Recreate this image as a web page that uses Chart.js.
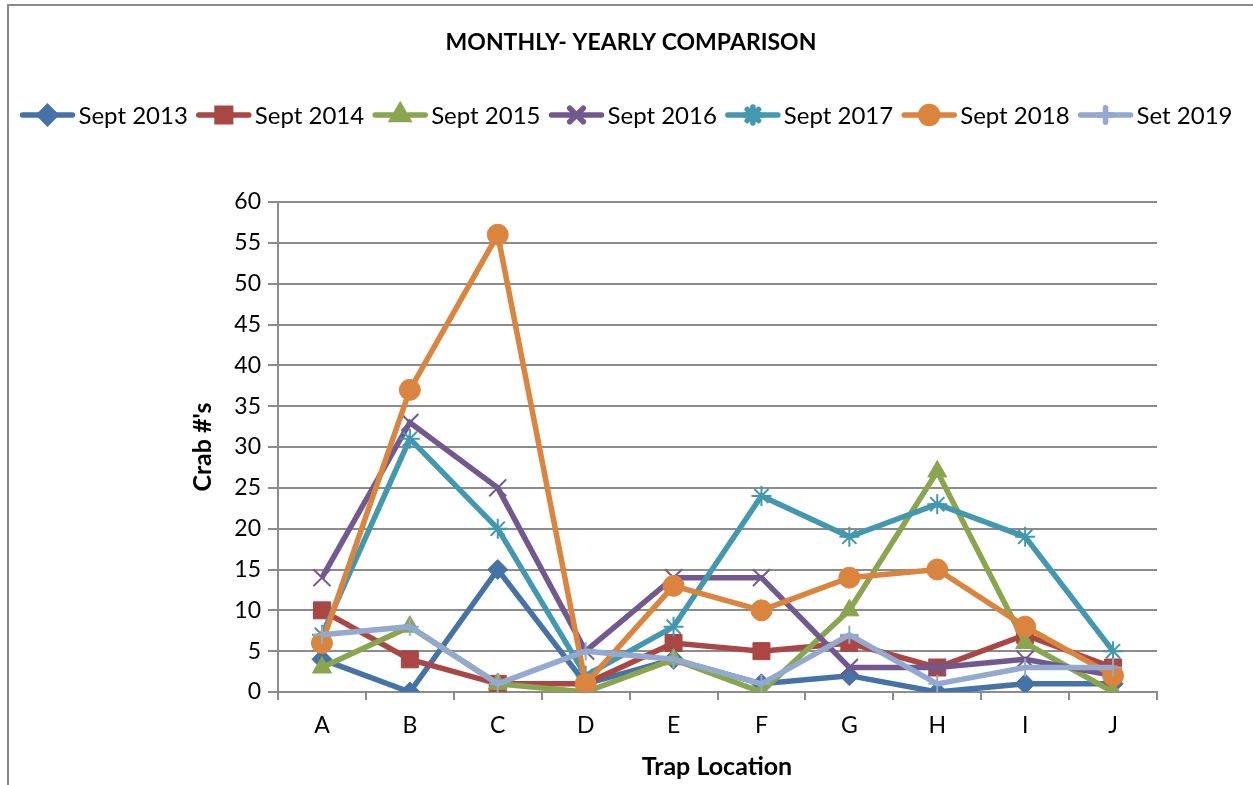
<!DOCTYPE html>
<html>
<head>
  <meta charset="utf-8">
  <title>Monthly- Yearly Comparison</title>
  <script src="https://cdn.jsdelivr.net/npm/chart.js"></script>
  <style>
    html, body { margin: 0; padding: 0; background: #fff; overflow: hidden; }
    .frame { position: absolute; left: 7px; top: 4px; width: 1400px; height: 900px; border: 2px solid #8c8c8c; }
    .wrap { position: absolute; left: 0; top: 0; width: 1253px; height: 785px; }
  </style>
</head>
<body>
  <div class="frame"></div>
  <div class="wrap"><canvas id="chart" width="1253" height="785"></canvas></div>

  <script>
    const locations = ['A', 'B', 'C', 'D', 'E', 'F', 'G', 'H', 'I', 'J'];
    const sept2013 = [4, 0, 15, 1, 4, 1, 2, 0, 1, 1];
    const sept2014 = [10, 4, 1, 1, 6, 5, 6, 3, 7, 3];
    const sept2015 = [3, 8, 1, 0, 4, 0, 10, 27, 6, 0];
    const sept2016 = [14, 33, 25, 5, 14, 14, 3, 3, 4, 2];
    const sept2017 = [7, 31, 20, 2, 8, 24, 19, 23, 19, 5];
    const sept2018 = [6, 37, 56, 1, 13, 10, 14, 15, 8, 2];
    const set2019 = [7, 8, 1, 5, 4, 1, 7, 1, 3, 3];
    const yTicks = [0, 5, 10, 15, 20, 25, 30, 35, 40, 45, 50, 55, 60];

    const FONT = 'Lato, "Open Sans", sans-serif';

    const series = [
      { label: 'Sept 2013', data: sept2013, color: '#4572A7', style: 'rectRot', r: 10, bw: 1 },
      { label: 'Sept 2014', data: sept2014, color: '#AA4643', style: 'rect', r: 12, bw: 1 },
      { label: 'Sept 2015', data: sept2015, color: '#89A54E', style: 'triangle', r: 11, bw: 1 },
      { label: 'Sept 2016', data: sept2016, color: '#71588F', style: 'crossRot', r: 12, bw: 2 },
      { label: 'Sept 2017', data: sept2017, color: '#4198AF', style: 'star', r: 10, bw: 2 },
      { label: 'Sept 2018', data: sept2018, color: '#DB843D', style: 'circle', r: 10.5, bw: 1 },
      { label: 'Set 2019', data: set2019, color: '#93A9CF', style: 'cross', r: 9, bw: 2 }
    ];

    // title, legend and axis titles drawn by hand so they sit where Excel put them
    const decorations = {
      id: 'decorations',
      afterDraw(chart) {
        const ctx = chart.ctx;
        ctx.save();
        ctx.fillStyle = '#000';
        ctx.textBaseline = 'middle';

        ctx.font = 'bold 23px ' + FONT;
        ctx.textAlign = 'center';
        ctx.fillText('MONTHLY- YEARLY COMPARISON', 631, 43);

        ctx.font = 'bold 25px ' + FONT;
        ctx.fillText('Trap Location', 717, 767);

        ctx.save();
        ctx.translate(203, 447);
        ctx.rotate(-Math.PI / 2);
        ctx.fillText("Crab #'s", 0, 0);
        ctx.restore();

        // legend: line + marker, then label
        ctx.font = '24px ' + FONT;
        ctx.textAlign = 'left';
        const lineLen = 56, gapText = 3, gapItem = 8, y = 115;
        let total = 0;
        series.forEach(s => { total += lineLen + gapText + ctx.measureText(s.label).width + gapItem; });
        total -= gapItem;
        let x = 626 - total / 2;
        series.forEach(s => {
          ctx.strokeStyle = s.color;
          ctx.lineWidth = 5.5;
          ctx.lineCap = 'round';
          ctx.beginPath();
          ctx.moveTo(x + 3, y);
          ctx.lineTo(x + lineLen - 3, y);
          ctx.stroke();
          ctx.fillStyle = s.color;
          Chart.helpers.drawPoint(ctx, { pointStyle: s.style, radius: s.r * 0.8, rotation: 0, borderWidth: s.bw }, x + lineLen / 2, y);
          ctx.fillStyle = '#000';
          ctx.fillText(s.label, x + lineLen + gapText, y + 1);
          x += lineLen + gapText + ctx.measureText(s.label).width + gapItem;
        });
        ctx.restore();
      }
    };

    new Chart(document.getElementById('chart'), {
      type: 'line',
      data: {
        labels: locations,
        datasets: series.map((s, i) => ({
          label: s.label,
          data: s.data,
          borderColor: s.color,
          backgroundColor: s.color,
          pointBackgroundColor: s.color,
          pointBorderColor: s.color,
          pointStyle: s.style,
          pointRadius: s.r,
          pointBorderWidth: s.bw,
          borderWidth: 5.5,
          tension: 0,
          fill: false,
          order: series.length - i
        }))
      },
      options: {
        responsive: false,
        animation: false,
        events: [],
        layout: { padding: { left: 0, top: 202, right: 96, bottom: 0 } },
        plugins: { legend: { display: false }, title: { display: false }, tooltip: { enabled: false } },
        scales: {
          x: {
            offset: true,
            grid: { offset: true, drawOnChartArea: false, drawTicks: true, tickLength: 8, color: '#8c8c8c', lineWidth: 2 },
            border: { display: true, color: '#8c8c8c', width: 2 },
            ticks: { color: '#000', font: { family: FONT, size: 23 }, padding: 12, maxRotation: 0 },
            afterFit(scale) { scale.height = 93; }
          },
          y: {
            min: 0,
            max: 60,
            afterBuildTicks(scale) { scale.ticks = yTicks.map(v => ({ value: v })); },
            grid: { color: '#8c8c8c', lineWidth: 2, tickLength: 10 },
            border: { display: true, color: '#8c8c8c', width: 2 },
            ticks: { color: '#000', font: { family: FONT, size: 23 }, padding: 7 },
            afterFit(scale) { scale.width = 278; }
          }
        }
      },
      plugins: [decorations]
    });
  </script>
</body>
</html>
